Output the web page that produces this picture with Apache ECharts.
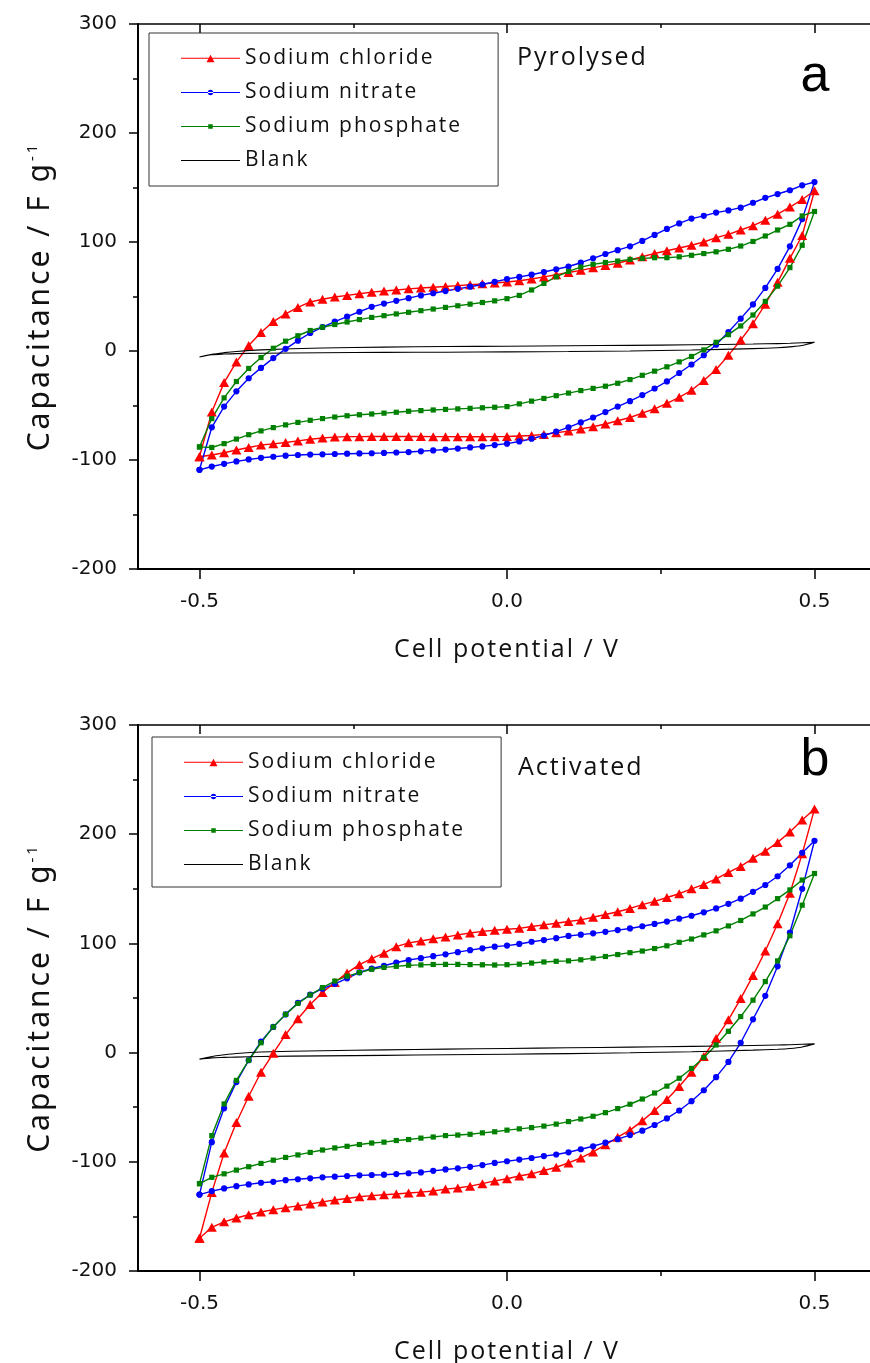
<!DOCTYPE html>
<html><head><meta charset="utf-8">
<script src="https://cdn.jsdelivr.net/npm/echarts@6/dist/echarts.min.js"></script>
<style>html,body{margin:0;padding:0;background:#fff}#c{width:870px;height:1363px}</style>
</head><body><div id="c"></div>
<script>
// ---- letter spacing for the Calibri-like texts ----
(function(){
  const p = CanvasRenderingContext2D.prototype, f = p.fillText, m = p.measureText;
  function ls(ctx){
    if (!('letterSpacing' in ctx)) return;
    ctx.letterSpacing = /Open Sans/.test(ctx.font) ? '2px' : (/Noto Sans/.test(ctx.font) ? '3px' : '0px');
  }
  p.fillText = function(){ ls(this); return f.apply(this, arguments); };
  p.measureText = function(){ ls(this); return m.apply(this, arguments); };
})();

// ---- data ----
const POTENTIAL = [-0.50,-0.48,-0.46,-0.44,-0.42,-0.40,-0.38,-0.36,-0.34,-0.32,-0.30,-0.28,-0.26,-0.24,-0.22,-0.20,-0.18,-0.16,-0.14,-0.12,-0.10,-0.08,-0.06,-0.04,-0.02,0.00,0.02,0.04,0.06,0.08,0.10,0.12,0.14,0.16,0.18,0.20,0.22,0.24,0.26,0.28,0.30,0.32,0.34,0.36,0.38,0.40,0.42,0.44,0.46,0.48,0.50];
const BLANK_X = [-0.50,-0.48,-0.46,-0.44,-0.40,-0.30,-0.20,-0.10,0.00,0.10,0.20,0.30,0.40,0.44,0.46,0.48,0.50];
const X_TICKS = [-0.5, 0, 0.5];
const X_MINOR = [-0.25, 0.25];
const SERIES_NAMES = ['Sodium chloride','Sodium nitrate','Sodium phosphate','Blank'];

// Panel a (pyrolysed): forward (anodic) and reverse (cathodic) branches, both listed in ascending potential
const A_NACL_UP = [-97,-56,-29,-10,5,17,27,34,40,45,47.5,49.5,51,52.5,54,55,56,57,57.8,58.5,59.2,60,60.8,61.6,62.4,63.3,64.5,66,68,70,72,74,76.3,78.5,80.5,83.5,86.5,89.5,92,94.5,97,100,104,107,111,115,120,125.5,132,139,147];
const A_NACL_DN = [-97,-95.4,-93.3,-90.8,-88.5,-86.3,-85.2,-84,-82.5,-81,-79.8,-79,-78.6,-78.6,-78.5,-78.5,-78.5,-78.5,-78.5,-78.6,-78.6,-78.7,-78.7,-78.7,-78.6,-78.5,-78,-77.5,-76.5,-75,-73.5,-71.5,-69.5,-67,-64,-61,-57,-53,-48,-42.5,-36,-27,-17,-4,10,25,43,63,85,106,147];
const A_NANO3_UP = [-109,-70,-51,-37,-25,-15.5,-6.5,2,9.5,16.5,22,27,31.5,36,40.5,43.5,46,48.5,51,53,55,57,59,61,63.5,66,68,70,72.5,75,77.5,81,85,89,92.5,96,101,106.5,112,117,121.5,124,127,129,131.5,136,140.5,144,147.5,152,155];
const A_NANO3_DN = [-109,-106,-103.5,-101.3,-99.5,-98,-97,-96,-95.4,-95,-94.8,-94.5,-94.2,-94,-93.8,-93.5,-93.1,-92.7,-92,-91.2,-90.4,-89.5,-88.5,-87.5,-86.3,-85,-83,-80.5,-77.5,-74,-70,-65.5,-61,-56,-51,-46,-40.4,-34.4,-27.9,-20.2,-12.4,-3.9,5.8,17.4,29.7,42.7,57.9,75.3,96,121,155];
const A_NA3PO4_UP = [-88,-62,-43,-28,-16,-6,2.5,9,14,18.8,21.8,24.3,26.6,28.8,30.8,32.4,34,35.5,37,38.5,40,41.5,43,44.5,46,48,51,56,62,68,73,77,79.5,81.2,82.5,84,85,85.6,85.6,86.4,87.8,89.4,91,93.3,96.3,100.5,105.5,111,116.2,123.9,128];
const A_NA3PO4_DN = [-88,-88.5,-85,-80.8,-76.8,-73.3,-70.3,-67.8,-65.5,-63.6,-62,-60.6,-59.4,-58.5,-57.8,-57,-56.2,-55.3,-54.7,-54.1,-53.6,-53.1,-52.6,-52.1,-51.6,-51,-48.5,-46,-43.5,-41,-38.6,-36.3,-34.3,-32.3,-29.6,-26.2,-22.3,-18.5,-14.5,-10,-5,1,8,15,23,33,45.5,59.5,76.5,97,128];
const A_BLANK_UP = [-5.5,-3,-1.5,-0.4,1,2.8,3.6,4.1,4.4,4.8,5.2,5.7,6.4,6.8,7.1,7.5,8];
const A_BLANK_DN = [-5.5,-3.5,-2.8,-2.4,-2.1,-1.6,-1.3,-1.1,-0.8,-0.5,0,0.9,2.2,3,3.8,5,8];

// Panel b (activated)
const B_NACL_UP = [-170,-128,-92,-64,-40,-18,-0.5,16.5,31,44,55,64.3,73,80.5,86,91,97,100.5,102.2,104.3,105.8,107.8,109.5,111,112,113,113.8,115.5,117,118.5,120,121.5,124,126.5,129,132,135.5,138.5,142,145.5,150,154,159,165,170.5,178,184.5,192.5,202,213,223];
const B_NACL_DN = [-170,-160,-155,-151.5,-148.5,-146,-143.8,-142,-140.4,-138.6,-136.7,-135,-133.6,-132,-131,-130.2,-129.5,-128.6,-127.8,-126.8,-125,-124,-122.3,-120,-117.5,-115.5,-113,-111,-108,-105,-101,-96.5,-91,-84.5,-77.5,-71,-62.5,-53,-43,-31,-18,-3.5,13,30,49.5,70.5,93,118,146,182,223];
const B_NANO3_UP = [-130,-82,-51,-27,-7,10,23.5,35,45.5,53,58.5,63,68,73.5,77,79.5,82.5,84.8,86.5,88.3,90,92,93.8,95.5,97,98,99.5,101.5,103,104.8,106.8,108,109.2,110.6,112.2,113.7,115.7,117.8,120,122.6,125.3,128.5,132,136.2,141,147.2,153.5,161.5,171.5,183,194];
const B_NANO3_DN = [-130,-126.8,-124.4,-122.3,-120.7,-119.2,-118.3,-116.8,-116,-115.1,-114.2,-113.6,-113,-112.4,-112.1,-111.8,-111.2,-110.5,-109.7,-108.3,-107,-106,-104.6,-103,-101,-99.5,-98,-96.5,-94.8,-93.3,-91.3,-88.5,-85.8,-82.5,-79.3,-75.5,-71.5,-66.3,-60.3,-53,-44.5,-34.5,-22.5,-8.5,9,30.5,52,79,110,150,194];
const B_NA3PO4_UP = [-120,-76,-47,-25.5,-7,9,23.5,35,45,52.8,59.5,65.5,70,73.3,76.3,78,79,80,80.3,80.7,80.8,80.8,80.6,80.4,80.2,80.5,81,82,83,83.6,84,85,86.5,88,89.8,91.5,93,95.3,97.8,101,104,107.8,111.5,116,121,127,133.3,141,149,158,164];
const B_NA3PO4_DN = [-120,-114.2,-111,-107.6,-104.5,-101.5,-98.5,-96,-93.7,-91.4,-89.2,-87.3,-85.8,-84.2,-82.8,-82,-80.5,-79.6,-78.3,-77.3,-76,-75.5,-74.8,-73.5,-72.5,-71,-69.8,-68.7,-67.3,-65.5,-63.2,-60.8,-58.3,-55,-51.3,-47.3,-42.5,-37,-30.7,-23.5,-14.5,-4.5,7,19.5,33,48,65,84,107,135,164];
const B_BLANK_UP = [-6,-3.5,-2,-0.8,0.5,1.7,2.5,3.2,3.8,4.4,5,5.7,6.5,6.9,7.2,7.6,8];
const B_BLANK_DN = [-6,-4.8,-4.4,-4.1,-3.6,-3,-2.5,-2,-1.5,-0.9,-0.2,0.8,2.3,3.1,3.8,5.2,8];

// ---- helpers ----
function loop(xs, up, dn){
  const pts = up.map((v,i)=>[xs[i], v]);
  for (let i = dn.length - 2; i >= 0; i--) pts.push([xs[i], dn[i]]);
  return pts;
}
const COLORS = ['#ff0000','#0000ff','#008000','#000000'];
const SYMBOLS = ['triangle','circle','rect','none'];
const SYMSIZE = [[10,9],6.2,5.2,0];
const TXT = '#111';

function panelSeries(gi, sets){
  return sets.map((s, k) => ({
    name: SERIES_NAMES[k], type:'line', xAxisIndex: gi*4, yAxisIndex: gi,
    data: loop(k === 3 ? BLANK_X : POTENTIAL, s[0], s[1]),
    symbol: SYMBOLS[k], symbolSize: SYMSIZE[k], showSymbol: k !== 3, showAllSymbol: true,
    smooth: k === 3 ? 0.3 : false,
    lineStyle: {color: COLORS[k], width: k === 3 ? 1.1 : 1.4},
    itemStyle: {color: COLORS[k], borderWidth: 0},
    emphasis: {disabled: true}, z: 2
  }));
}
function xAxes(gi){
  const base = {gridIndex: gi, type:'value', min:-0.6, max:0.6, splitLine:{show:false}};
  const tl = {color:'#000', width:1.5};
  return [
    Object.assign({}, base, {position:'bottom',
      axisLine:{show:true, onZero:false, lineStyle:{color:'#000', width:2}},
      axisTick:{show:true, customValues:X_TICKS, length:10, lineStyle:tl},
      axisLabel:{show:true, customValues:X_TICKS, formatter:v=>v.toFixed(1), margin:23, fontFamily:'DejaVu Sans', fontSize:20, color:TXT},
      name:'Cell potential / V', nameLocation:'middle', nameGap:67,
      nameTextStyle:{fontFamily:'Open Sans', fontSize:25, color:TXT}}),
    Object.assign({}, base, {position:'bottom', axisLine:{show:false, onZero:false},
      axisTick:{show:true, customValues:X_MINOR, length:5, lineStyle:tl}, axisLabel:{show:false}}),
    Object.assign({}, base, {position:'top',
      axisLine:{show:true, onZero:false, lineStyle:{color:'#000', width:1.6}},
      axisTick:{show:true, inside:true, customValues:X_TICKS, length:9, lineStyle:tl}, axisLabel:{show:false}}),
    Object.assign({}, base, {position:'top', axisLine:{show:false, onZero:false},
      axisTick:{show:true, inside:true, customValues:X_MINOR, length:4, lineStyle:tl}, axisLabel:{show:false}})
  ];
}
function yAxis(gi){
  return {gridIndex: gi, type:'value', min:-200, max:300, interval:100, position:'left',
    axisLine:{show:true, onZero:false, lineStyle:{color:'#000', width:2}},
    axisTick:{show:true, length:9, lineStyle:{color:'#000', width:1.5}},
    minorTick:{show:true, splitNumber:2, length:5, lineStyle:{color:'#000', width:1.5}},
    axisLabel:{margin:21, fontFamily:'DejaVu Sans', fontSize:20, color:TXT},
    splitLine:{show:false}, minorSplitLine:{show:false},
    name:'Capacitance / F g{sup|-1}', nameLocation:'middle', nameGap:81, nameRotate:90,
    nameTextStyle:{fontFamily:'Noto Sans', fontSize:30, color:TXT,
      rich:{sup:{fontFamily:'Noto Sans', fontSize:15, color:TXT, verticalAlign:'top'}}}};
}
const ICONS = [
  'path://M0,5.4H59V6.6H0Z M25.5,10L29.5,2.5L33.5,10Z',
  'path://M0,5.4H59V6.6H0Z M26.8,6A2.7,2.7,0,1,0,32.2,6A2.7,2.7,0,1,0,26.8,6Z',
  'path://M0,5.4H59V6.6H0Z M27.25,3.75H31.75V8.25H27.25Z',
  'path://M0,5.4H59V6.6H0Z'
];
function legend(left, top, pad){
  return {left, top, orient:'vertical', itemWidth:59, itemHeight:12, itemGap:11,
    padding:pad, borderColor:'#333', borderWidth:1, backgroundColor:'#fff',
    itemStyle:{borderWidth:0}, selectedMode:false,
    data: SERIES_NAMES.map((n,i)=>({name:n, icon:ICONS[i]})),
    textStyle:{fontFamily:'Open Sans', fontSize:21, lineHeight:22, color:TXT}};
}

const chart = echarts.init(document.getElementById('c'), null, {renderer:'canvas'});
chart.setOption({
  animation:false, backgroundColor:'#fff',
  grid:[{left:138, top:24, width:738, height:545, outerBoundsMode:'none', containLabel:false},
        {left:138, top:725, width:738, height:546, outerBoundsMode:'none', containLabel:false}],
  xAxis: xAxes(0).concat(xAxes(1)),
  yAxis: [yAxis(0), yAxis(1)],
  legend: [legend(149, 33, [14, 36, 14, 32]), legend(152, 737, [14, 36, 11, 32])],
  graphic: [
    {type:'text', x:517, y:58, style:{text:'Pyrolysed', font:"25px 'Open Sans'", fill:TXT, verticalAlign:'middle'}},
    {type:'text', x:815, y:77, style:{text:'a', font:"52px 'Liberation Sans'", fill:'#000', align:'center', verticalAlign:'middle'}},
    {type:'text', x:518, y:768, style:{text:'Activated', font:"25px 'Open Sans'", fill:TXT, verticalAlign:'middle'}},
    {type:'text', x:815, y:761, style:{text:'b', font:"52px 'Liberation Sans'", fill:'#000', align:'center', verticalAlign:'middle'}}
  ],
  series: panelSeries(0, [[A_NACL_UP,A_NACL_DN],[A_NANO3_UP,A_NANO3_DN],[A_NA3PO4_UP,A_NA3PO4_DN],[A_BLANK_UP,A_BLANK_DN]])
    .concat(panelSeries(1, [[B_NACL_UP,B_NACL_DN],[B_NANO3_UP,B_NANO3_DN],[B_NA3PO4_UP,B_NA3PO4_DN],[B_BLANK_UP,B_BLANK_DN]]))
});
</script></body></html>
